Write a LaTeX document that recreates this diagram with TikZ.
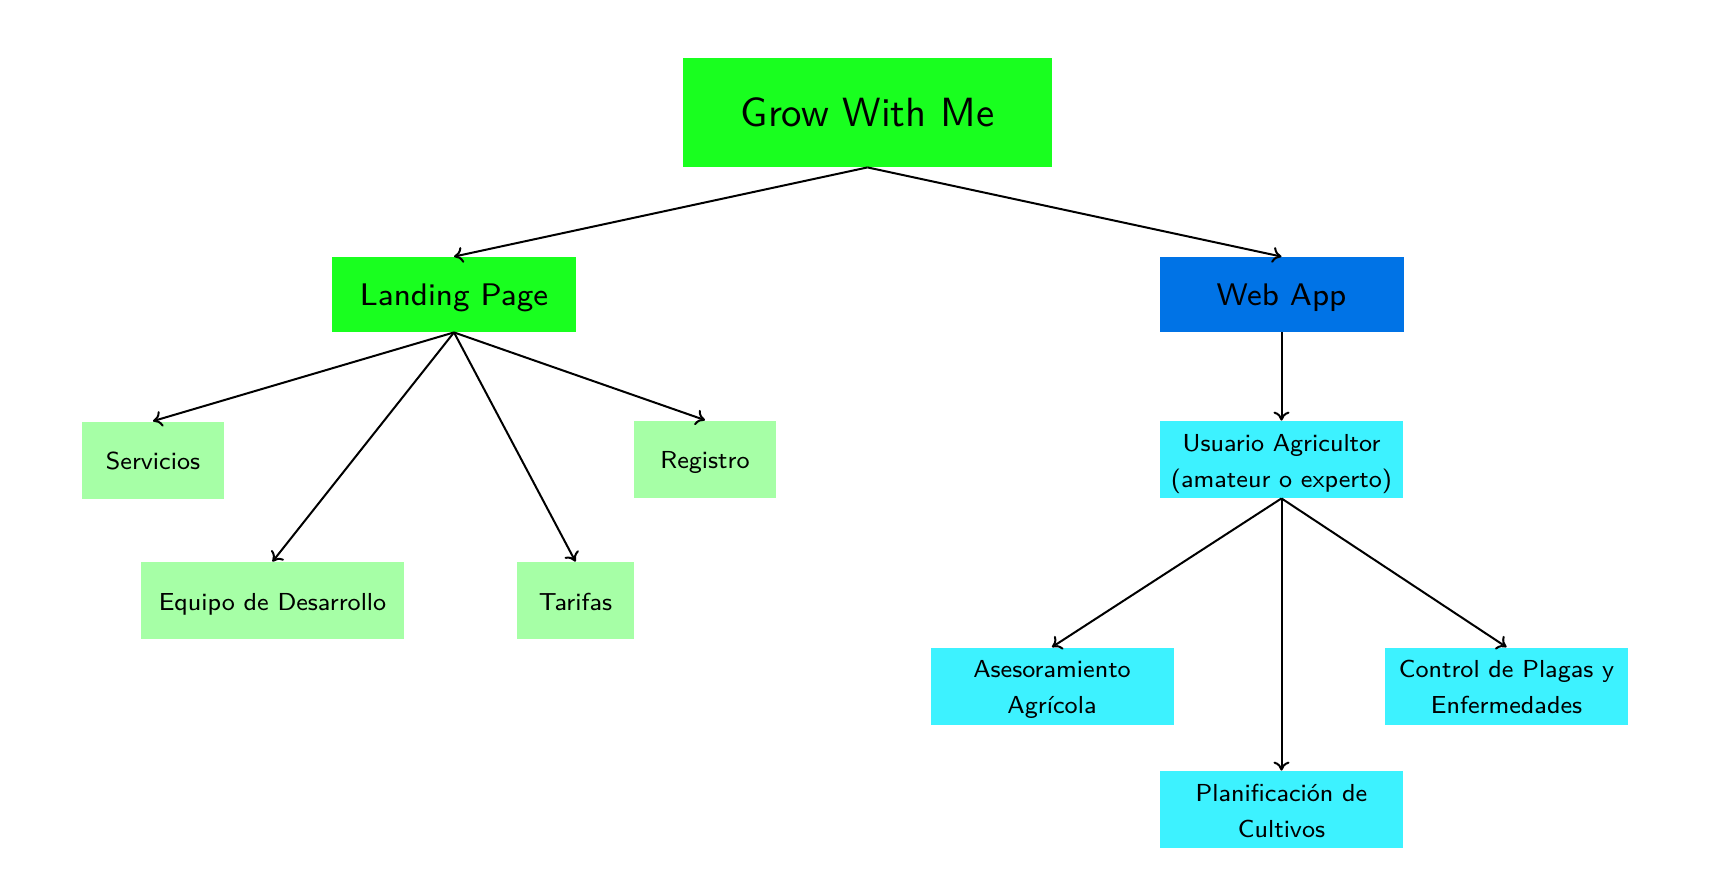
\documentclass[tikz,border=0pt]{standalone}
\usepackage{fontspec}
\newfontfamily\lmeight{lmsans8-regular.otf}
\newfontfamily\lmten{lmsans10-regular.otf}
\usetikzlibrary{arrows.meta}
\definecolor{topgreen}{HTML}{19FF1F}
\definecolor{lightgreen}{HTML}{A6FFA6}
\definecolor{appblue}{HTML}{0073E6}
\definecolor{appcyan}{HTML}{3DF2FF}
\newcommand{\ls}{\rule[-3.2pt]{0pt}{15.9pt}}
\newcommand{\ms}{\rule[-3.5pt]{0pt}{17.9pt}}
\newcommand{\rs}{\rule[-4.5pt]{0pt}{22.5pt}}
\tikzset{
  box/.style={rectangle, inner sep=0pt, align=center},
  rootbox/.style={box, fill=topgreen, minimum width=184.5pt, minimum height=54.5pt, font=\lmten\fontsize{20.4}{24}\selectfont},
  midbox/.style={box, minimum width=122pt, minimum height=37.5pt, font=\lmeight\fontsize{15.6}{19}\selectfont},
  leafgreen/.style={box, fill=lightgreen, minimum height=38.5pt, font=\lmeight\fontsize{12.3}{18}\selectfont},
  leafcyan/.style={box, fill=appcyan, minimum width=121.5pt, minimum height=38.5pt, font=\lmeight\fontsize{12.3}{18}\selectfont},
  conn/.style={draw, line width=1pt, -{To[length=4.5pt,width=8pt]}},
}
\begin{document}
\begin{tikzpicture}[x=0.5pt,y=-0.5pt]
\useasboundingbox (0,0) rectangle (1736,890);
\node[rootbox] (root) at (867.5,112.5) {\rs Grow With Me};
\node[midbox, fill=topgreen] (land) at (454,294.5) {\ms Landing Page};
\node[midbox, fill=appblue] (app) at (1281.5,294.5) {\ms Web App};
\node[leafgreen, minimum width=71pt] (serv) at (153,460) {\ls Servicios};
\node[leafgreen, minimum width=71pt] (reg) at (705,459) {\ls Registro};
\node[leafgreen, minimum width=131.5pt] (equipo) at (272.5,600.5) {\ls Equipo de Desarrollo};
\node[leafgreen, minimum width=58.5pt] (tar) at (575.5,600.5) {\ls Tarifas};
\node[leafcyan] (user) at (1281.5,459.5) {\ls Usuario Agricultor\\\ls(amateur o experto)};
\node[leafcyan] (ases) at (1052,686) {\ls Asesoramiento\\\ls Agrícola};
\node[leafcyan] (ctrl) at (1506.5,686) {\ls Control de Plagas y\\\ls Enfermedades};
\node[leafcyan] (plan) at (1281.5,809.5) {\ls Planificación de\\\ls Cultivos};
\draw[conn] (root.south) -- (land.north);
\draw[conn] (root.south) -- (app.north);
\draw[conn] (land.south) -- (serv.north);
\draw[conn] (land.south) -- (equipo.north);
\draw[conn] (land.south) -- (tar.north);
\draw[conn] (land.south) -- (reg.north);
\draw[conn] (app.south) -- (user.north);
\draw[conn] (user.south) -- (ases.north);
\draw[conn] (user.south) -- (plan.north);
\draw[conn] (user.south) -- (ctrl.north);
\end{tikzpicture}
\end{document}
